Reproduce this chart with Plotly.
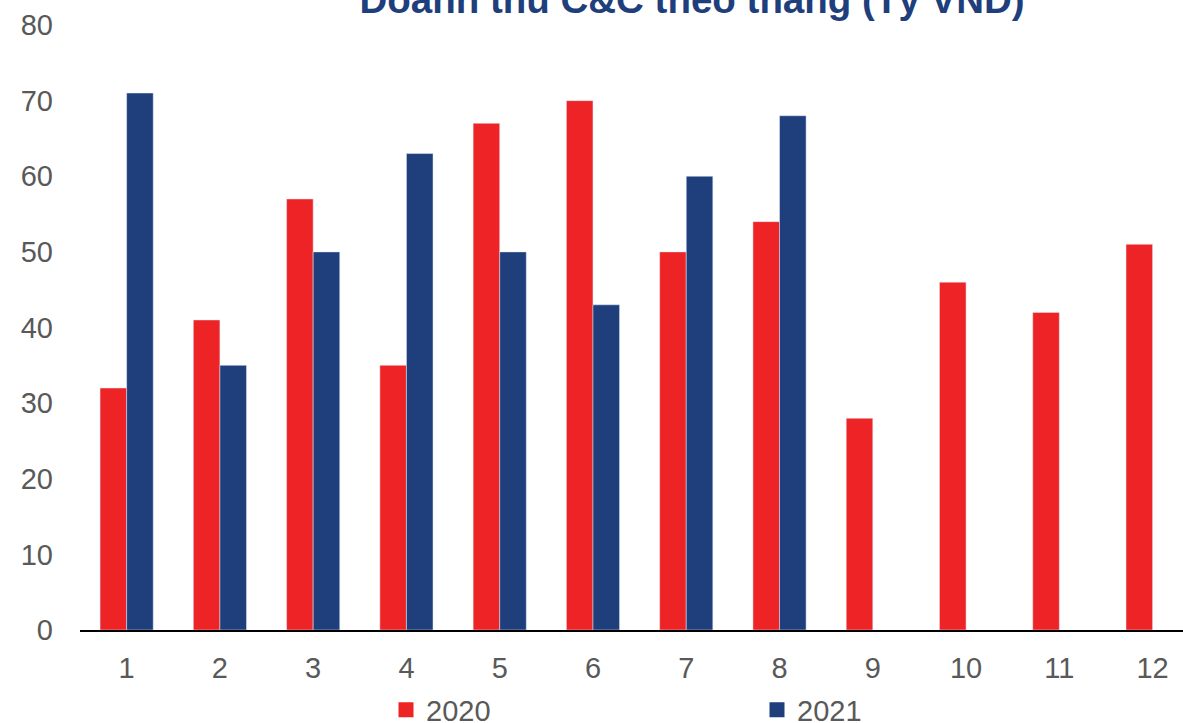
import plotly.graph_objects as go

# Monthly revenue (billion VND)
months = ["1", "2", "3", "4", "5", "6", "7", "8", "9", "10", "11", "12"]
revenue_2020 = [32, 41, 57, 35, 67, 70, 50, 54, 28, 46, 42, 51]
revenue_2021 = [71, 35, 50, 63, 50, 43, 60, 68]
y_ticks = [0, 10, 20, 30, 40, 50, 60, 70, 80]

RED = "#EE2326"
NAVY = "#1F3E7C"
GREY = "#595959"
FONT = "Liberation Sans, Arial, sans-serif"

fig = go.Figure()
fig.add_trace(go.Bar(x=months, y=revenue_2020, name="2020", marker_color=RED, showlegend=False))
fig.add_trace(go.Bar(x=months[:len(revenue_2021)], y=revenue_2021, name="2021",
                     marker_color=NAVY, showlegend=False))

# Legend keys with larger square swatches
for label, color in (("2020", RED), ("2021", NAVY)):
    fig.add_trace(go.Scatter(x=[None], y=[None], mode="markers", name=label,
                             marker=dict(symbol="square", size=15, color=color)))

fig.update_layout(
    width=1183,
    height=723,
    margin=dict(l=80, r=0, t=25, b=93, autoexpand=False),
    paper_bgcolor="white",
    plot_bgcolor="white",
    barmode="group",
    bargap=0.43,
    bargroupgap=0,
    font=dict(family=FONT, size=29, color=GREY),
    title=dict(
        text="<b>Doanh thu C&C theo tháng (Tỷ VND)</b>",
        font=dict(family=FONT, size=38.5, color=NAVY),
        x=0.585, xanchor="center",
        yref="container", y=1 - 13 / 723, yanchor="bottom",
    ),
    xaxis=dict(
        type="category",
        range=[-0.5, 11.326],
        showgrid=False,
        showline=True,
        linecolor="black",
        linewidth=1.5,
        ticks="",
        ticklabelstandoff=11,
        tickfont=dict(size=29, color=GREY),
    ),
    yaxis=dict(
        range=[0, 80],
        tickvals=y_ticks,
        showgrid=False,
        showline=False,
        zeroline=False,
        ticks="",
        ticklabelstandoff=26,
        tickfont=dict(size=29, color=GREY),
    ),
    legend=dict(
        orientation="h",
        x=386 / 1183, xref="container",
        y=-80 / 605, yref="paper", yanchor="middle",
        bgcolor="rgba(0,0,0,0)",
        entrywidth=326, entrywidthmode="pixels",
        font=dict(size=29, color=GREY),
        itemclick=False,
    ),
    showlegend=True,
)

fig.write_html("out.html")
